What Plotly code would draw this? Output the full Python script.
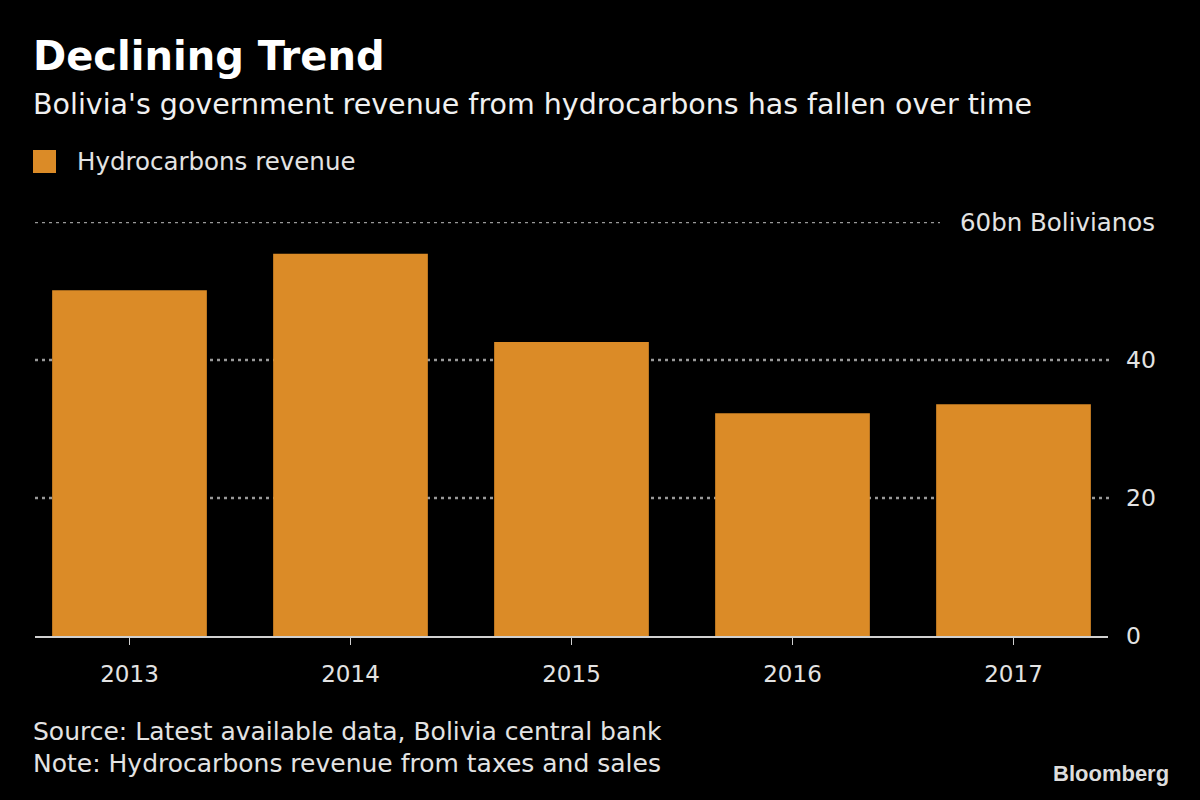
import plotly.graph_objects as go

years = ["2013", "2014", "2015", "2016", "2017"]
revenue = [50.1, 55.4, 42.6, 32.3, 33.6]
series_name = "Hydrocarbons revenue"
y_ticks = [0, 20, 40, 60]
y_tick_labels = ["0", "20", "40", "60bn Bolivianos"]
title = "Declining Trend"
subtitle = "Bolivia's government revenue from hydrocarbons has fallen over time"
footer = ["Source: Latest available data, Bolivia central bank",
          "Note: Hydrocarbons revenue from taxes and sales"]

W, H = 1200, 800
L, R = 35, 1108
T, B = 222, 636
BAR = "#DB8B27"
TXT = "#E3E3E3"
FONT = "DejaVu Sans"

def px(x):
    return (x - L) / (R - L)

def py(y):
    return (B - y) / (B - T)

fig = go.Figure()
fig.add_trace(go.Bar(x=list(range(len(years))), y=revenue, name=series_name,
                     marker=dict(color=BAR, line=dict(width=0)), showlegend=False))

shapes = []
for v in y_ticks[1:]:
    xend = px(940) if v == y_ticks[-1] else px(1110)
    shapes.append(dict(type="line", xref="paper", yref="y", x0=0, x1=xend, y0=v, y1=v,
                       line=dict(color="#999999", width=2.5, dash="3px,4px"), layer="below"))
# legend swatch
shapes.append(dict(type="rect", xref="paper", yref="paper", x0=px(33), x1=px(56),
                   y0=py(173), y1=py(150), fillcolor=BAR, line=dict(width=0)))

ann = []
for v, lab in zip(y_ticks, y_tick_labels):
    if v == y_ticks[-1]:
        ann.append(dict(x=px(1157), y=v, xref="paper", yref="y", text=lab, showarrow=False,
                        xanchor="right", yanchor="middle", font=dict(size=24.5, color=TXT, family=FONT)))
    else:
        ann.append(dict(x=px(1124), y=v, xref="paper", yref="y", text=lab, showarrow=False,
                        xanchor="left", yanchor="middle", font=dict(size=23.5, color=TXT, family=FONT)))

ann.append(dict(x=px(31), y=py(56), xref="paper", yref="paper", text="<b>" + title + "</b>",
                showarrow=False, xanchor="left", yanchor="middle",
                font=dict(size=40, color="#FFFFFF", family=FONT)))
ann.append(dict(x=px(31), y=py(104), xref="paper", yref="paper", text=subtitle,
                showarrow=False, xanchor="left", yanchor="middle",
                font=dict(size=28.5, color="#F0F0F0", family=FONT)))
ann.append(dict(x=px(75), y=py(161), xref="paper", yref="paper", text=series_name,
                showarrow=False, xanchor="left", yanchor="middle",
                font=dict(size=24.5, color=TXT, family=FONT)))
for i, line in enumerate(footer):
    ann.append(dict(x=px(31), y=py(731 + 32 * i), xref="paper", yref="paper", text=line,
                    showarrow=False, xanchor="left", yanchor="middle",
                    font=dict(size=25, color=TXT, family=FONT)))
ann.append(dict(x=px(1171), y=py(773), xref="paper", yref="paper", text="<b>Bloomberg</b>",
                showarrow=False, xanchor="right", yanchor="middle",
                font=dict(size=22, color="#DDDDDD", family="Liberation Sans")))

fig.update_layout(
    width=W, height=H,
    paper_bgcolor="#000000", plot_bgcolor="#000000",
    margin=dict(l=L, r=W - R, t=T, b=H - B, pad=0),
    bargap=0.3,
    shapes=shapes, annotations=ann,
    xaxis=dict(range=[-0.4276, 4.4276], tickvals=list(range(len(years))), ticktext=years,
               showline=True, linecolor="#D0D0D0", linewidth=2, ticks="outside",
               ticklen=7, tickwidth=1, tickcolor="#D0D0D0", showgrid=False, zeroline=False,
               ticklabelstandoff=9,
               tickfont=dict(size=23, color=TXT, family=FONT)),
    yaxis=dict(range=[0, 60], showticklabels=False, showgrid=False, zeroline=False,
               showline=False, ticks=""),
)

fig.write_html("out.html", config={"displayModeBar": False},
               post_script="document.body.style.margin='0';document.body.style.background='#000';")
